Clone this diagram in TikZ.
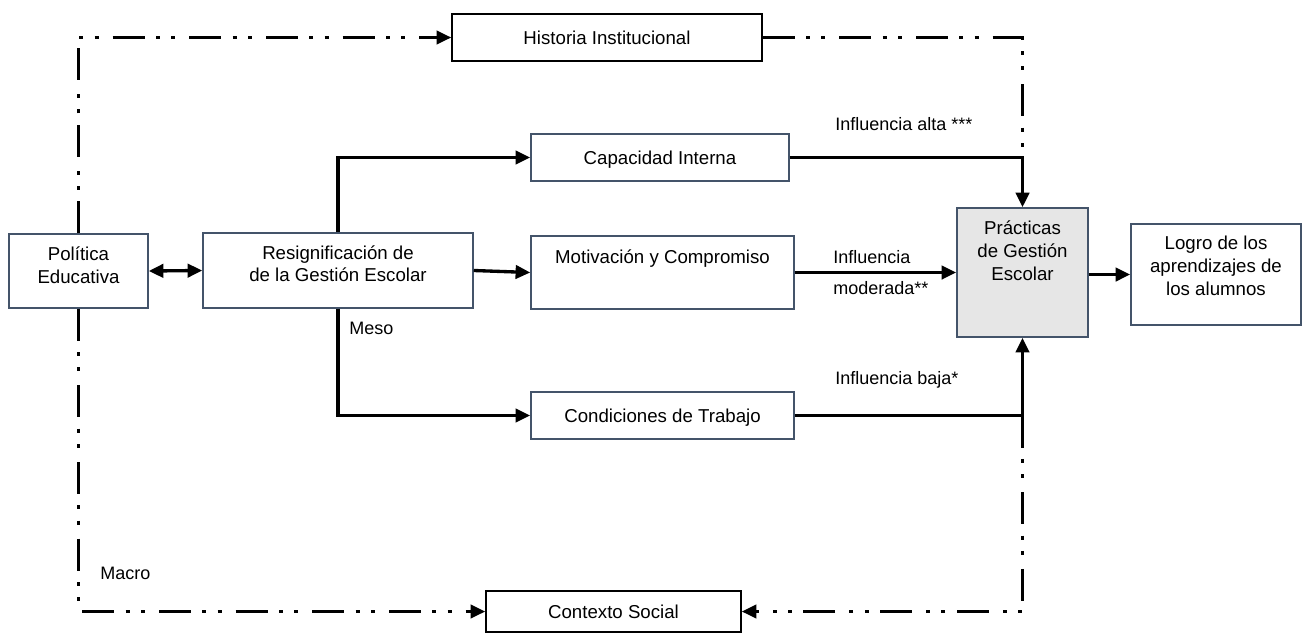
\documentclass[tikz,border=0pt]{standalone}
\usepackage{fontspec}
\setmainfont{Liberation Sans}
\usetikzlibrary{arrows.meta}
\definecolor{boxline}{RGB}{68,84,106}
\definecolor{practgray}{RGB}{230,230,230}

\begin{document}
\begin{tikzpicture}[
    x=0.75pt, y=-0.75pt,
    >={Triangle[length=11pt, width=10pt]},
    stage/.style={draw=boxline, line width=1.1pt, fill=white, inner sep=0pt,
                  align=center, font=\fontsize{14}{17}\selectfont},
    blackstage/.style={stage, draw=black},
    lbl/.style={anchor=base west, inner sep=0pt, font=\fontsize{13.5}{15}\selectfont},
    flow/.style={line width=2.5pt},
    macroline/.style={line width=2.3pt,
                      dash pattern=on 24pt off 8.5pt on 3pt off 8.5pt on 3pt off 10.5pt}
  ]

  % ============================================================
  %  Boxes
  % ============================================================
  \node[stage, minimum width=104.25pt, text height=37pt, text depth=18.5pt]
    (pol) at (78.5, 271) {Política\\Educativa};
  \node[stage, minimum width=202.5pt, text height=36.5pt, text depth=19.75pt]
    (resig) at (338, 270.5) {Resignificación de\\de la Gestión Escolar};

  \node[blackstage, minimum width=232.5pt, text height=22.6pt, text depth=12.6pt]
    (hist) at (607, 37.5) {Historia Institucional};
  \node[stage, minimum width=193.5pt, text height=22.6pt, text depth=12.6pt]
    (cap) at (660, 157.5) {Capacidad Interna};
  \node[stage, minimum width=197.25pt, text height=20.75pt, text depth=34pt]
    (motiv) at (662.5, 272.5) {Motivación y Compromiso};
  \node[stage, minimum width=197.25pt, text height=22.6pt, text depth=12.6pt]
    (cond) at (662.5, 415.5) {Condiciones de Trabajo};
  \node[blackstage, minimum width=191.25pt, text height=20.4pt, text depth=10.4pt]
    (ctx) at (613.5, 611.5) {Contexto Social};

  \node[stage, fill=practgray, minimum width=98.25pt, text height=54pt, text depth=42.75pt]
    (prac) at (1022.5, 272.5) {Prácticas\\de Gestión\\Escolar};
  \node[stage, minimum width=127.5pt, text height=53.25pt, text depth=22.5pt]
    (logro) at (1216, 274.5) {Logro de los\\aprendizajes de\\los alumnos};

  % joints on the vertical line through Prácticas
  \coordinate (capjoin) at (cap.east -| prac.north);
  \coordinate (condjoin) at (cond.east -| prac.south);

  % ============================================================
  %  Macro level (dash-dot-dot)
  % ============================================================
  \draw[macroline, ->] (pol.north) |- (hist.west);
  \draw[macroline] (hist.east) -| (capjoin);
  \draw[macroline, ->] (pol.south) |- (ctx.west);
  \draw[macroline, ->] (condjoin) |- (ctx.east);

  % ============================================================
  %  Meso level (solid)
  % ============================================================
  \draw[flow, <->] (pol.east) -- (resig.west);
  \draw[flow, ->] (resig.north) |- (cap.west);
  \draw[flow, ->] (resig.east) -- (motiv.west);
  \draw[flow, ->] (resig.south) |- (cond.west);

  \draw[flow, ->] (cap.east) -| (prac.north);
  \draw[flow, ->] (motiv.east) -- (prac.west);
  \draw[flow, ->] (cond.east) -| (prac.south);
  \draw[flow, ->] (prac.east |- logro.west) -- (logro.west);

  % ============================================================
  %  Labels
  % ============================================================
  \node[lbl] (altalbl) at (835, 130) {Influencia alta ***};
  \node[lbl] (modlbl) at (833, 263) {Influencia};
  \node[lbl] (modlbltwo) at (833, 294) {moderada**};
  \node[lbl] (bajalbl) at (835, 384) {Influencia baja*};
  \node[lbl] (mesolbl) at (349, 334) {Meso};
  \node[lbl] (macrolbl) at (100, 579) {Macro};

  \pgfresetboundingbox
  \useasboundingbox (0, 0) rectangle (1302, 632);

\end{tikzpicture}
\end{document}
